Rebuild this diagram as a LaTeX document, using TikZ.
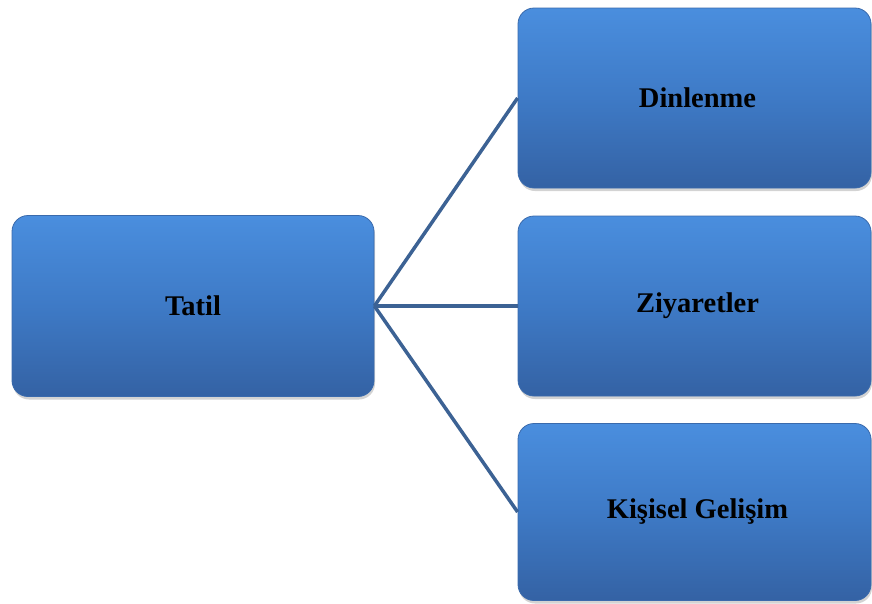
\documentclass[tikz,border=0pt]{standalone}
\usepackage{fontspec}
\setmainfont{Liberation Serif}
\usetikzlibrary{shadows}
\definecolor{boxtop}{RGB}{74,142,222}
\definecolor{boxmid}{RGB}{62,122,198}
\definecolor{boxbot}{RGB}{52,98,164}
\definecolor{boxedge}{RGB}{58,106,172}
\definecolor{linkc}{RGB}{60,98,148}
\tikzset{
  boxnode/.style={rectangle, rounded corners=16pt, minimum width=#1, top color=boxtop, bottom color=boxbot, middle color=boxmid, draw=boxedge, line width=0.8pt, font=\fontsize{28.5}{34}\selectfont\bfseries, text=black, drop shadow={shadow xshift=1pt, shadow yshift=-3pt, opacity=0.35}},
  link/.style={draw=linkc, line width=3.5pt}
}
\begin{document}
\begin{tikzpicture}[x=1pt,y=-1pt]
\useasboundingbox (0,0) rectangle (872,603);
\node[boxnode=362pt, minimum height=181pt] (tatil) at (193,306) {Tatil};
\node[boxnode=353pt, minimum height=180pt] (dinlenme) at (694.5,98) {\hspace*{6pt}Dinlenme};
\node[boxnode=353pt, minimum height=180pt] (ziyaret) at (694.5,306) {\hspace*{6pt}Ziyaretler};
\node[boxnode=353pt, minimum height=177pt] (kisisel) at (694.5,512) {\hspace*{6pt}Kişisel Gelişim};
\draw[link] (tatil.east) -- (dinlenme.west);
\draw[link] (tatil.east) -- (ziyaret.west);
\draw[link] (tatil.east) -- (kisisel.west);
\end{tikzpicture}
\end{document}
